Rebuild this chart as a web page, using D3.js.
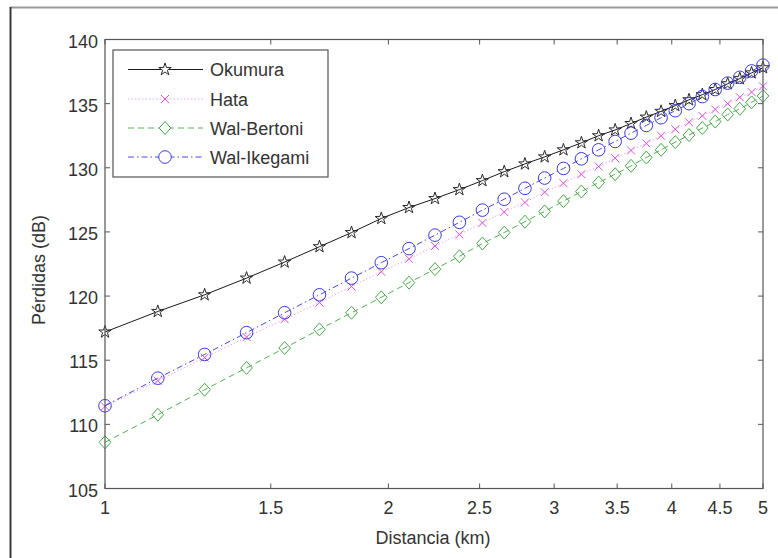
<!DOCTYPE html>
<html>
<head>
<meta charset="utf-8">
<script src="https://cdn.jsdelivr.net/npm/d3@7"></script>
<style>
  html, body { margin: 0; padding: 0; background: #fff; }
  svg { display: block; }
  text { font-family: "Liberation Sans", Arial, sans-serif; fill: #333; }
</style>
</head>
<body>
<svg id="chart" width="778" height="558"></svg>
<script>
// Distance samples (km)
const distancia = [1.0000, 1.1379, 1.2759, 1.4138, 1.5517, 1.6897, 1.8276, 1.9655, 2.1034, 2.2414,
                   2.3793, 2.5172, 2.6552, 2.7931, 2.9310, 3.0690, 3.2069, 3.3448, 3.4828, 3.6207,
                   3.7586, 3.8966, 4.0345, 4.1724, 4.3103, 4.4483, 4.5862, 4.7241, 4.8621, 5.0000];

// Path loss per model (dB)
const okumura = [117.2, 118.8, 120.1, 121.4, 122.65, 123.85, 124.95, 126.05, 126.9, 127.6,
                 128.3, 129.0, 129.7, 130.3, 130.85, 131.4, 131.95, 132.5, 132.95, 133.45,
                 133.95, 134.4, 134.85, 135.3, 135.7, 136.1, 136.55, 136.95, 137.4, 137.8];
const hata = [111.4, 113.4, 115.2, 116.8, 118.2, 119.5, 120.75, 121.9, 122.9, 123.9,
              124.8, 125.7, 126.55, 127.3, 128.1, 128.8, 129.5, 130.1, 130.75, 131.35,
              131.9, 132.5, 133.0, 133.55, 134.05, 134.55, 135.0, 135.5, 135.9, 136.35];
const walBertoni = [108.6, 110.75, 112.7, 114.4, 115.95, 117.4, 118.7, 119.9, 121.05, 122.1,
                    123.1, 124.1, 124.95, 125.8, 126.6, 127.4, 128.15, 128.85, 129.5, 130.15,
                    130.8, 131.4, 132.0, 132.55, 133.1, 133.6, 134.15, 134.6, 135.1, 135.6];
const walIkegami = [111.45, 113.6, 115.45, 117.15, 118.7, 120.1, 121.4, 122.6, 123.7, 124.75,
                    125.75, 126.7, 127.55, 128.4, 129.2, 129.95, 130.7, 131.4, 132.05, 132.7,
                    133.3, 133.9, 134.45, 135.0, 135.55, 136.1, 136.6, 137.05, 137.55, 138.0];

const xTicks = [1, 1.5, 2, 2.5, 3, 3.5, 4, 4.5, 5];
const yTicks = [105, 110, 115, 120, 125, 130, 135, 140];

const seriesNames = ["Okumura", "Hata", "Wal-Bertoni", "Wal-Ikegami"];
const seriesValues = [okumura, hata, walBertoni, walIkegami];

const styles = {
  "Okumura":     { line: "#1a1a1a", mark: "#2a2a2a", dash: null,          marker: "star" },
  "Hata":        { line: "#f0a8f0", mark: "#d855d8", dash: "1.5,2",       marker: "x" },
  "Wal-Bertoni": { line: "#55b055", mark: "#45a845", dash: "6,4",         marker: "diamond" },
  "Wal-Ikegami": { line: "#4848e0", mark: "#3a3ad8", dash: "6,3,1.5,3",   marker: "circle" }
};

const svg = d3.select("#chart");
const W = 778, H = 558;
const plot = { left: 105, right: 763, top: 39.5, bottom: 488.5 };

// Figure frame edges
svg.append("line").attr("x1", 10).attr("x2", W).attr("y1", 7.5).attr("y2", 7.5)
  .attr("stroke", "#9a9a9a").attr("stroke-width", 2);
svg.append("line").attr("x1", 10.5).attr("x2", 10.5).attr("y1", 7).attr("y2", H)
  .attr("stroke", "#3a3a3a").attr("stroke-width", 2);

const x = d3.scaleLog().domain([1, 5]).range([plot.left, plot.right]);
const y = d3.scaleLinear().domain([105, 140]).range([plot.bottom, plot.top]);

// Marker shapes
function markerPath(kind, s) {
  if (kind === "star") return d3.symbol().type(d3.symbolStar).size(s)();
  if (kind === "diamond") {
    const r = Math.sqrt(s);
    return `M0,${-r}L${r * 0.9},0L0,${r}L${-r * 0.9},0Z`;
  }
  if (kind === "x") {
    const r = Math.sqrt(s);
    return `M${-r},${-r}L${r},${r}M${-r},${r}L${r},${-r}`;
  }
  return null;
}

const g = svg.append("g");

// Series lines and markers, drawn in plot order
seriesNames.forEach((name, si) => {
  const vals = seriesValues[si];
  const st = styles[name];
  const pts = distancia.map((d, i) => [d, vals[i]]);
  const line = d3.line().x(p => x(p[0])).y(p => y(p[1]));
  g.append("path").attr("d", line(pts))
    .attr("fill", "none").attr("stroke", st.line).attr("stroke-width", 1)
    .attr("stroke-dasharray", st.dash);
  const m = g.append("g");
  pts.forEach(p => {
    if (st.marker === "circle") {
      m.append("circle").attr("cx", x(p[0])).attr("cy", y(p[1])).attr("r", 6.3)
        .attr("fill", "none").attr("stroke", st.mark).attr("stroke-width", 1);
    } else {
      const size = st.marker === "star" ? 48 : (st.marker === "diamond" ? 42 : 16);
      m.append("path").attr("d", markerPath(st.marker, size))
        .attr("transform", `translate(${x(p[0])},${y(p[1])})`)
        .attr("fill", "none").attr("stroke", st.mark).attr("stroke-width", 1);
    }
  });
});

// Axes box with inward ticks on all sides
const axisColor = "#555";
svg.append("rect").attr("x", plot.left).attr("y", plot.top)
  .attr("width", plot.right - plot.left).attr("height", plot.bottom - plot.top)
  .attr("fill", "none").attr("stroke", axisColor).attr("stroke-width", 1.2);

const tickLen = 5;
xTicks.forEach(t => {
  const px = x(t);
  svg.append("line").attr("x1", px).attr("x2", px).attr("y1", plot.bottom).attr("y2", plot.bottom - tickLen)
    .attr("stroke", axisColor);
  svg.append("line").attr("x1", px).attr("x2", px).attr("y1", plot.top).attr("y2", plot.top + tickLen)
    .attr("stroke", axisColor);
  svg.append("text").attr("x", px).attr("y", plot.bottom + 25)
    .attr("text-anchor", "middle").attr("font-size", 18).text(t);
});
yTicks.forEach(t => {
  const py = y(t);
  svg.append("line").attr("x1", plot.left).attr("x2", plot.left + tickLen).attr("y1", py).attr("y2", py)
    .attr("stroke", axisColor);
  svg.append("line").attr("x1", plot.right).attr("x2", plot.right - tickLen).attr("y1", py).attr("y2", py)
    .attr("stroke", axisColor);
  svg.append("text").attr("x", plot.left - 7).attr("y", py + 8)
    .attr("text-anchor", "end").attr("font-size", 18).text(t);
});

// Axis titles
svg.append("text").attr("x", 433).attr("y", 544)
  .attr("text-anchor", "middle").attr("font-size", 18).text("Distancia (km)");
svg.append("text").attr("transform", "translate(45,270) rotate(-90)")
  .attr("text-anchor", "middle").attr("font-size", 18).text("Pérdidas (dB)");

// Legend
const leg = svg.append("g");
leg.append("rect").attr("x", 113).attr("y", 50).attr("width", 215).attr("height", 127)
  .attr("fill", "#fff").attr("stroke", axisColor).attr("stroke-width", 1.2);
const rowY = [69.5, 99, 128, 157];
seriesNames.forEach((name, i) => {
  const st = styles[name];
  const ry = rowY[i];
  leg.append("line").attr("x1", 128).attr("x2", 203).attr("y1", ry).attr("y2", ry)
    .attr("stroke", st.line).attr("stroke-width", 1).attr("stroke-dasharray", st.dash);
  if (st.marker === "circle") {
    leg.append("circle").attr("cx", 165).attr("cy", ry).attr("r", 6.3)
      .attr("fill", "#fff").attr("stroke", st.mark);
  } else {
    const size = st.marker === "star" ? 48 : (st.marker === "diamond" ? 42 : 16);
    leg.append("path").attr("d", markerPath(st.marker, size))
      .attr("transform", `translate(165,${ry})`)
      .attr("fill", st.marker === "x" ? "none" : "#fff").attr("stroke", st.mark);
  }
  leg.append("text").attr("x", 210).attr("y", ry + 6.5).attr("font-size", 18).text(name);
});
</script>
</body>
</html>
